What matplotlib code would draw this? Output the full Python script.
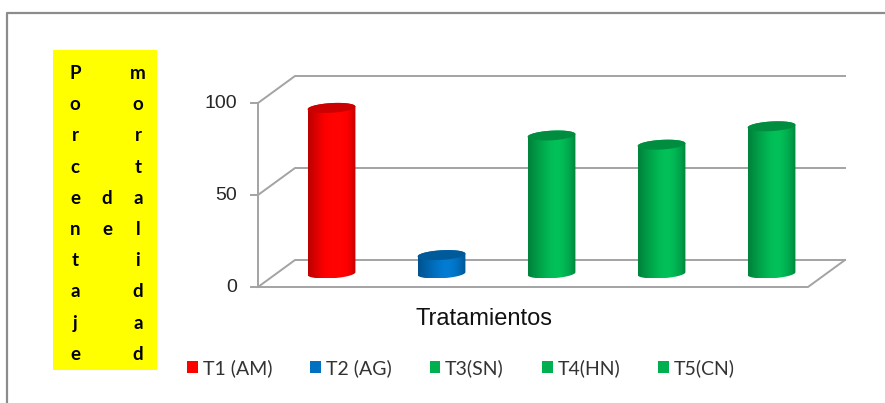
import numpy as np
import matplotlib.pyplot as plt
from matplotlib.patches import Polygon, Rectangle, Patch
from matplotlib.lines import Line2D
from matplotlib.colors import to_rgb

# datos
categorias = ["T1 (AM)", "T2 (AG)", "T3(SN)", "T4(HN)", "T5(CN)"]
mortalidad = [90, 10, 75, 70, 80]
colores = ["#FF0000", "#0070C0", "#00B050", "#00B050", "#00B050"]
ticks_y = [0, 50, 100]
titulo_y = ["Porcentaje", "de", "mortalidad"]
titulo_x = "Tratamientos"

W, H = 885, 403
fig = plt.figure(figsize=(W / 100, H / 100), dpi=100)
ax = fig.add_axes([0, 0, 1, 1])
ax.axis('off')

# escala (pixeles por categoria / por unidad de porcentaje)
px_cat = 110
px_val = 1.84
x_ini, y_ini = 258, 287
prof_x = 37 / px_cat
prof_y = 27 / px_val
n = len(categorias)
gris = '#a3a3a3'

#Rejilla y ejes en perspectiva
for v in ticks_y:
    ax.plot([0, prof_x, n + prof_x], [v, v + prof_y, v + prof_y], color=gris, lw=1.4, zorder=1)
    ax.plot([-7 / px_cat, 0], [v, v], color=gris, lw=1.4, zorder=1)
    ax.text(-21 / px_cat, v, str(v), ha='right', va='center', fontsize=14,
            family='Liberation Sans', color='#262626')
ax.plot([0, 0], [0, max(ticks_y)], color=gris, lw=1.4, zorder=1)
ax.plot([0, n, n + prof_x], [0, 0, prof_y], color=gris, lw=1.4, zorder=1)

ax.text((484 - x_ini) / px_cat, (y_ini - 319) / px_val, titulo_x, ha='center', va='center',
        fontsize=17, family='Liberation Sans', color='#111111')

#Cilindros
r_px, e_x, e_y = 23, 6.5, 5
t0 = np.arctan2(e_x, r_px)

def elipse(cx, cy, t):
    return np.column_stack([cx + (r_px * np.cos(t) + e_x * np.sin(t)) / px_cat,
                            cy + e_y * np.sin(t) / px_val])

def sombreado(color, npts=120):
    c = np.array(to_rgb(color))
    u = np.linspace(0, 1, npts)
    b = 0.74 + 0.34 * np.sin(np.pi * u ** 1.35) ** 0.8
    img = c[None, :] * b[:, None] + 0.12 * np.clip(b - 1, 0, None)[:, None]
    return np.clip(img, 0, 1)[None, :, :]

for i, (val, col) in enumerate(zip(mortalidad, colores)):
    cx = i + 0.5 + prof_x / 2
    base = prof_y / 2
    tope = val + prof_y / 2
    t_del = np.linspace(t0 + np.pi, t0 + 2 * np.pi, 80)
    t_atr = np.linspace(t0, t0 + np.pi, 80)
    cuerpo = np.vstack([elipse(cx, base, t_del), elipse(cx, tope, t_atr)])
    poly = Polygon(cuerpo, closed=True, facecolor='none', edgecolor='none')
    ax.add_patch(poly)
    im = ax.imshow(sombreado(col), extent=[cuerpo[:, 0].min(), cuerpo[:, 0].max(),
                                           cuerpo[:, 1].min(), cuerpo[:, 1].max()],
                   aspect='auto', interpolation='bilinear', zorder=2)
    im.set_clip_path(poly)
    oscuro = np.array(to_rgb(col)) * 0.8
    ax.add_patch(Polygon(elipse(cx, tope, np.linspace(0, 2 * np.pi, 120)), closed=True,
                         facecolor=oscuro, edgecolor='none', zorder=3))

#Titulo del eje y (caja amarilla)
ax.add_patch(Rectangle((53 / W, 1 - 370 / H), 104 / W, 320 / H, transform=ax.transAxes,
                       facecolor='#FFFF00', edgecolor='none', zorder=0))
col_x = [75, 107, 138]
fila_ini = [0, 4, 0]
for palabra, xp, f0 in zip(titulo_y, col_x, fila_ini):
    for k, letra in enumerate(palabra):
        yp = 73.5 + (f0 + k) * 31.2
        ax.text(xp / W, 1 - yp / H, letra, transform=ax.transAxes, ha='center', va='center',
                fontsize=13.5, fontweight='bold', family='Lato', color='black')

#Borde
ax.add_line(Line2D([7 / W, 7 / W, 1], [0, 1 - 13 / H, 1 - 13 / H], transform=ax.transAxes,
                   color='#8c8c8c', lw=1.6))

#Leyenda
handles = [Patch(facecolor=c, edgecolor='none') for c in colores]
fig.legend(handles, categorias, loc='center', bbox_to_anchor=(461 / W, 1 - 368 / H), ncol=5,
           frameon=False, prop={'family': 'Lato', 'size': 14}, labelcolor='#333333',
           handlelength=0.55, handleheight=0.55, handletextpad=0.25, columnspacing=1.95)

ax.set_xlim(-x_ini / px_cat, (W - x_ini) / px_cat)
ax.set_ylim((y_ini - H) / px_val, y_ini / px_val)
fig.savefig('out.png', dpi=100)
